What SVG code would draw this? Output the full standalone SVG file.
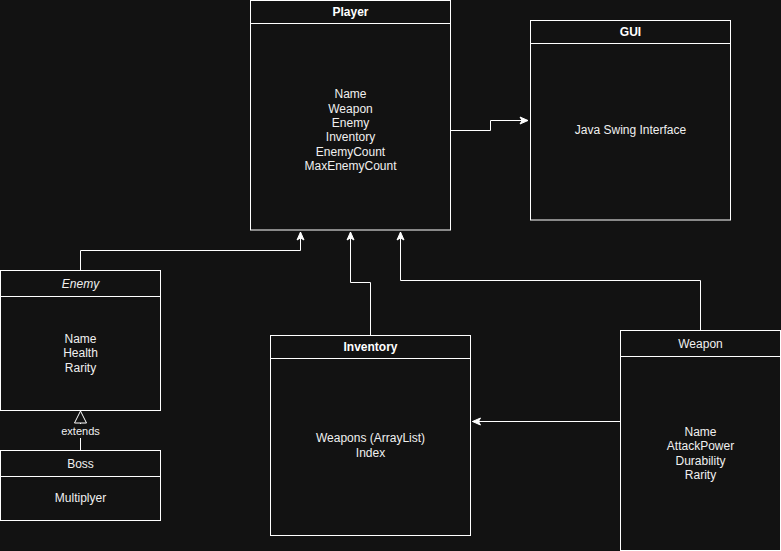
<svg xmlns="http://www.w3.org/2000/svg" width="781" height="551" viewBox="0 0 781 551">
<defs>
<style>
.box{fill:#121212;stroke:#ffffff;stroke-width:1}
.sep{stroke:#ffffff;stroke-width:1}
.t{font-family:"Liberation Sans",Arial,sans-serif;font-size:12px;fill:#f0f0f0;text-anchor:middle}
.b{font-weight:bold;fill:#ffffff}
.i{font-style:italic}
.edge{fill:none;stroke:#ffffff;stroke-width:1}
</style>
<marker id="arr" markerUnits="userSpaceOnUse" markerWidth="10" markerHeight="10" viewBox="0 0 10 10" refX="9" refY="5" orient="auto">
<path d="M1,1.5 L9,5 L1,8.5 L3,5 Z" fill="#ffffff" stroke="#ffffff" stroke-width="1"/>
</marker>
</defs>
<rect width="781" height="551" fill="#121212"/>
<g id="connectors">
<path class="edge" d="M450.5,130.5 H490.5 V120.5 H528" marker-end="url(#arr)"/>
<path class="edge" d="M80.5,270.5 V250.5 H300.5 V232" marker-end="url(#arr)"/>
<path class="edge" d="M370.5,335.5 V282.5 H350.5 V232" marker-end="url(#arr)"/>
<path class="edge" d="M700.5,330.5 V280.5 H400.5 V232" marker-end="url(#arr)"/>
<path class="edge" d="M620.5,421.5 H472.5" marker-end="url(#arr)"/>
<path class="edge" d="M80.5,450.5 V423"/>
<path d="M80.5,411 L86.5,423 L74.5,423 Z" fill="#121212" stroke="#ffffff" stroke-width="1"/>
<rect x="58" y="424" width="45" height="14" fill="#121212"/>
<text class="t" x="80.5" y="435" style="font-size:11px">extends</text>
</g>
<g id="player">
<rect class="box" x="250.5" y="0.5" width="200" height="229.5"/>
<line class="sep" x1="250.5" y1="23.5" x2="450.5" y2="23.5"/>
<text class="t b" x="350.5" y="16">Player</text>
<text class="t" x="350.5" y="98">Name</text>
<text class="t" x="350.5" y="112.5">Weapon</text>
<text class="t" x="350.5" y="126.5">Enemy</text>
<text class="t" x="350.5" y="141">Inventory</text>
<text class="t" x="350.5" y="155.5">EnemyCount</text>
<text class="t" x="350.5" y="169.5">MaxEnemyCount</text>
</g>
<g id="gui">
<rect class="box" x="530.5" y="20.5" width="200" height="199.5"/>
<line class="sep" x1="530.5" y1="43.5" x2="730.5" y2="43.5"/>
<text class="t b" x="630.5" y="36">GUI</text>
<text class="t" x="630.5" y="133.5">Java Swing Interface</text>
</g>
<g id="enemy">
<rect class="box" x="0.5" y="270.5" width="160" height="140"/>
<line class="sep" x1="0.5" y1="296.5" x2="160.5" y2="296.5"/>
<text class="t i" x="80.5" y="288">Enemy</text>
<text class="t" x="80.5" y="343">Name</text>
<text class="t" x="80.5" y="357">Health</text>
<text class="t" x="80.5" y="371.5">Rarity</text>
</g>
<g id="boss">
<rect class="box" x="0.5" y="450.5" width="160" height="70"/>
<line class="sep" x1="0.5" y1="476.5" x2="160.5" y2="476.5"/>
<text class="t" x="80.5" y="468">Boss</text>
<text class="t" x="80.5" y="502">Multiplyer</text>
</g>
<g id="inventory">
<rect class="box" x="270.5" y="335.5" width="200" height="200"/>
<line class="sep" x1="270.5" y1="358.5" x2="470.5" y2="358.5"/>
<text class="t b" x="370.5" y="351">Inventory</text>
<text class="t" x="370.5" y="442">Weapons (ArrayList)</text>
<text class="t" x="370.5" y="456.5">Index</text>
</g>
<g id="weapon">
<rect class="box" x="620.5" y="330.5" width="160" height="220"/>
<line class="sep" x1="620.5" y1="356.5" x2="780.5" y2="356.5"/>
<text class="t" x="700.5" y="348">Weapon</text>
<text class="t" x="700.5" y="436">Name</text>
<text class="t" x="700.5" y="450">AttackPower</text>
<text class="t" x="700.5" y="465">Durability</text>
<text class="t" x="700.5" y="479">Rarity</text>
</g>
</svg>
